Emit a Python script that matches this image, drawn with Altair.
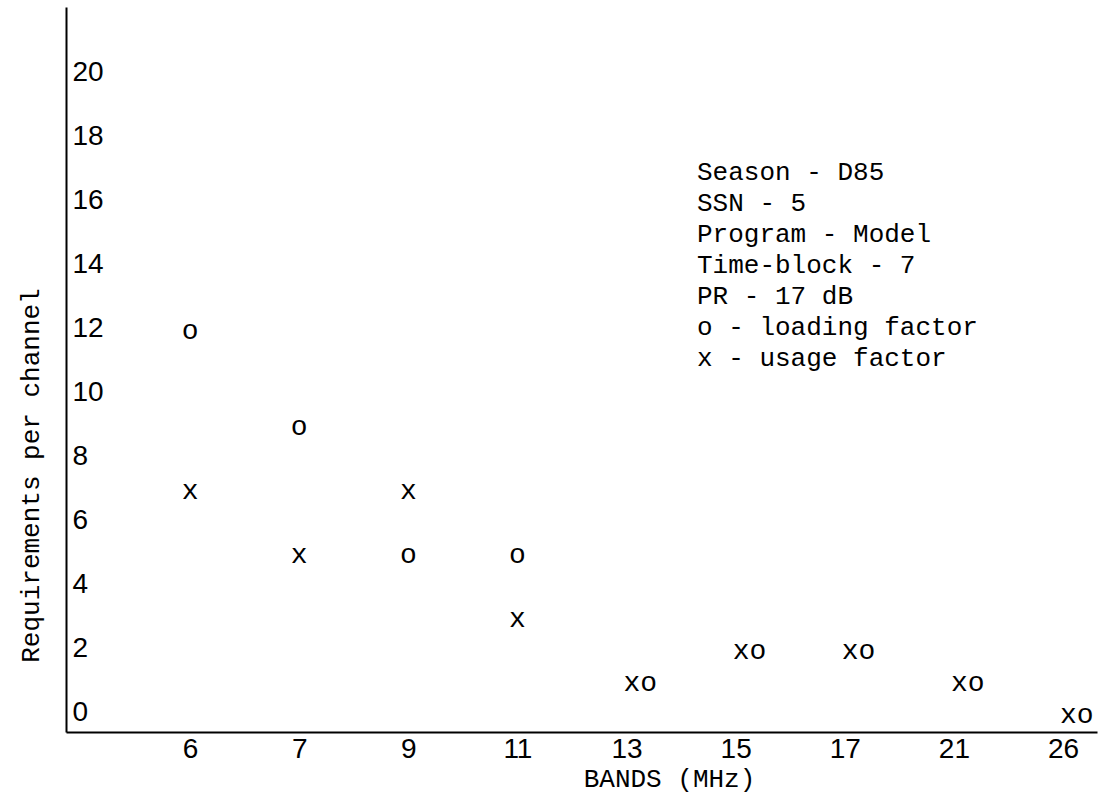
import altair as alt
import pandas as pd

bands = ["6", "7", "9", "11", "13", "15", "17", "21", "26"]
loading = [12, 9, 5, 5, 1, 2, 2, 1, 0]
usage = [7, 5, 7, 3, 1, 2, 2, 1, 0]
y_ticks = [0, 2, 4, 6, 8, 10, 12, 14, 16, 18, 20]
legend_lines = [
    "Season - D85",
    "SSN - 5",
    "Program - Model",
    "Time-block - 7",
    "PR - 17 dB",
    "o - loading factor",
    "x - usage factor",
]

rows = []
for b, lo, us in zip(bands, loading, usage):
    if lo == us:
        rows.append({"band": b, "value": lo, "sym": "xo", "combined": True})
    else:
        rows.append({"band": b, "value": lo, "sym": "o", "combined": False})
        rows.append({"band": b, "value": us, "sym": "x", "combined": False})
df = pd.DataFrame(rows)

MONO = "Liberation Mono, DejaVu Sans Mono, monospace"
NARROW = "Liberation Sans, Arial, sans-serif"

W, H = 1031, 725

x_enc = alt.X(
    "band:O",
    sort=bands,
    scale=alt.Scale(type="point", padding=0.724, align=0.785),
    axis=alt.Axis(
        title="BANDS (MHz)",
        titleFont=MONO,
        titleFontSize=26,
        titleFontWeight="normal",
        titleColor="black",
        titleX=603,
        titleY=46,
        titleAnchor="start",
        titleAlign="center",
        titleBaseline="middle",
        labelAngle=0,
        labelFont=NARROW,
        labelFontSize=28,
        labelColor="black",
        labelPadding=3,
        labelBaseline="top",
        ticks=False,
        tickSize=0,
        domainColor="black",
        domainWidth=2,
        grid=False,
    ),
)
y_enc = alt.Y(
    "value:Q",
    scale=alt.Scale(domain=[-0.6, 22.06], nice=False, zero=False),
    axis=alt.Axis(
        title="Requirements per channel",
        titleFont=MONO,
        titleFontSize=26,
        titleFontWeight="normal",
        titleColor="black",
        titleAngle=-90,
        titleX=-36,
        titleY=468,
        titleAlign="center",
        titleBaseline="middle",
        values=y_ticks,
        labelAlign="left",
        labelPadding=-6,
        labelFont=NARROW,
        labelFontSize=28,
        labelColor="black",
        labelFlush=False,
        labelOverlap=False,
        ticks=False,
        tickSize=0,
        domainColor="black",
        domainWidth=2,
        grid=False,
    ),
)

base = alt.Chart(df)
single = base.transform_filter("!datum.combined").mark_text(
    font=MONO, fontSize=28, color="black", align="center", baseline="middle", dy=2
).encode(x=x_enc, y=y_enc, text="sym:N")
combined = base.transform_filter("datum.combined").mark_text(
    font=MONO, fontSize=28, color="black", align="left", baseline="middle", dx=-3, dy=2
).encode(x=x_enc, y=y_enc, text="sym:N")

legend = alt.Chart(pd.DataFrame({"t": ["\n".join(legend_lines)]})).mark_text(
    font=MONO, fontSize=26, color="black", align="left", baseline="alphabetic",
    lineBreak="\n", lineHeight=31
).encode(x=alt.value(631), y=alt.value(173), text="t:N")

chart = (
    alt.layer(single, combined, legend)
    .properties(
        width=W,
        height=H,
        padding={"left": 66, "top": 7, "right": 4, "bottom": 75},
        autosize=alt.AutoSizeParams(type="none"),
        background="white",
    )
    .configure_view(stroke=None)
)

chart.save("out.html", embed_options={"renderer": "svg", "actions": False})
